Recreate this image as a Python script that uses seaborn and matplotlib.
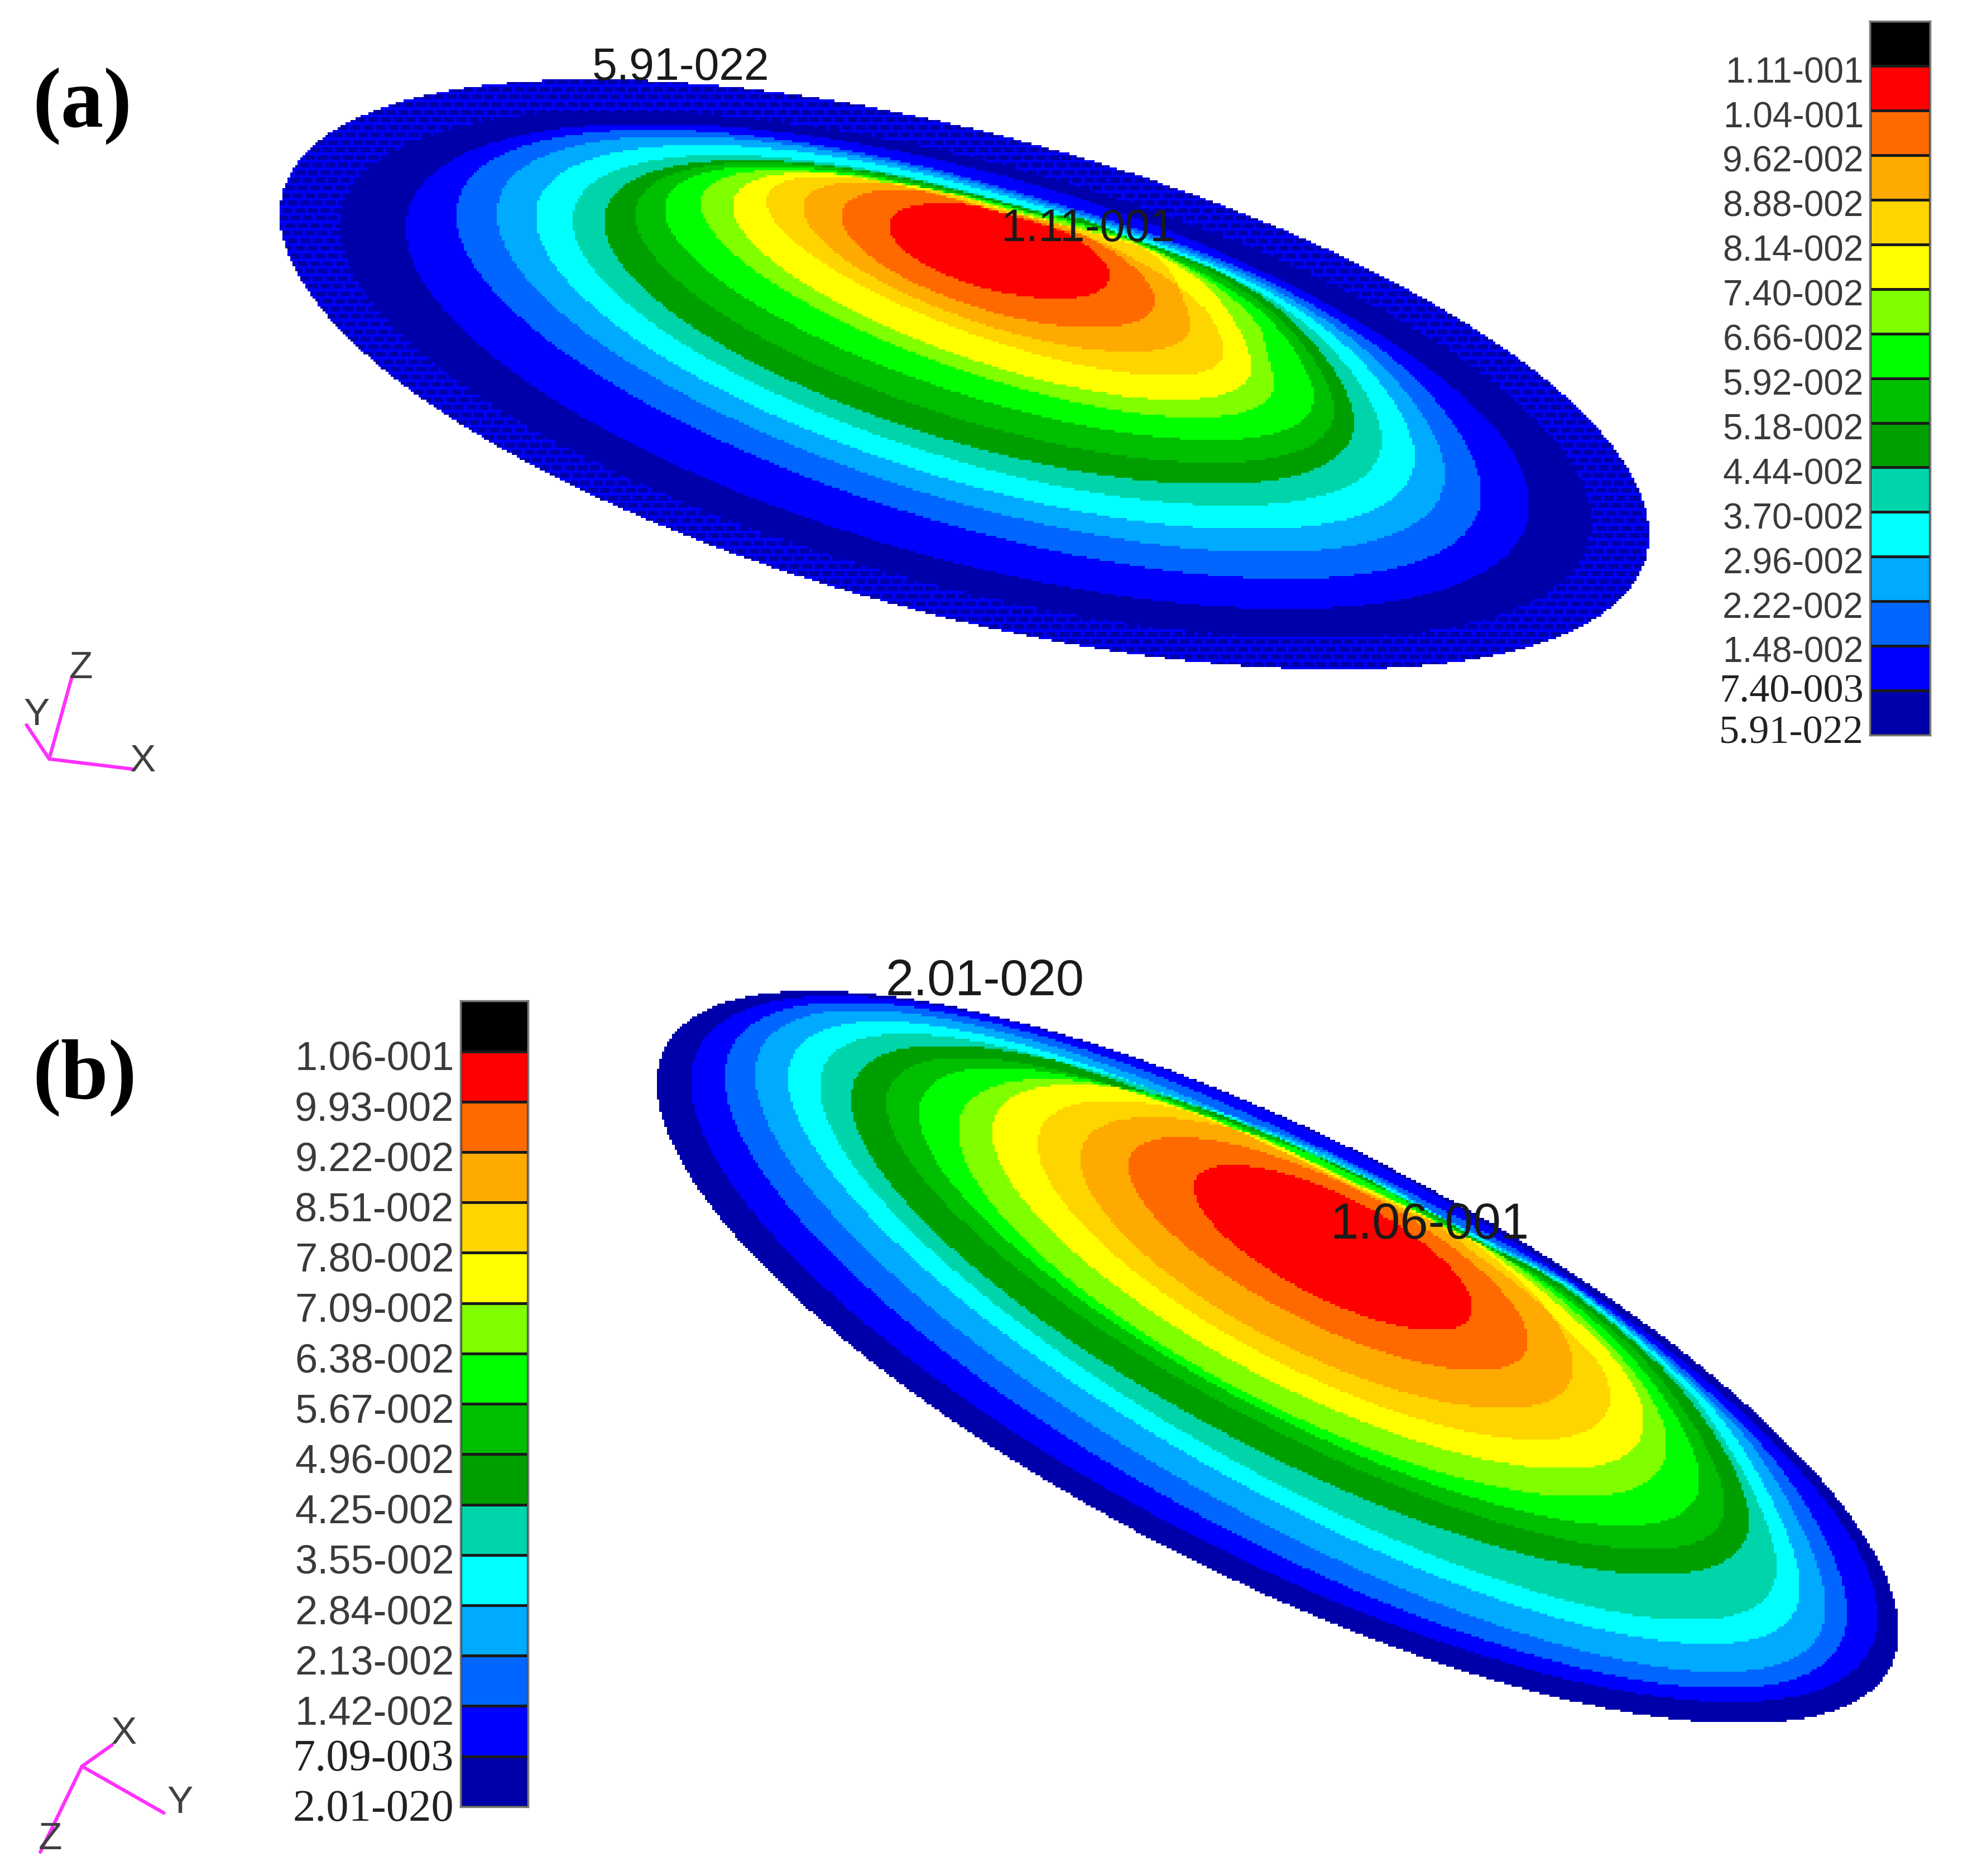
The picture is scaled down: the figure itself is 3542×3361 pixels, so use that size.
"""
Two FE contour plots (a) and (b) with their stepped colour legends
"""

import numpy as np
import pandas as pd
import matplotlib.pyplot as plt
from matplotlib.colors import ListedColormap
from matplotlib.path import Path
import seaborn as sns

W, H = 1568, 1488   # all readings below are in this coordinate space

bar_colors = ['#000000', '#FF0000', '#FF6A00', '#FFAA00', '#FFD500', '#FFFF00', '#7FFF00', '#00FF00',
              '#00BF00', '#009F00', '#00D4AA', '#00FFFF', '#00AAFF', '#0066FF', '#0000FF', '#0000AA']

labels_a = ['1.11-001', '1.04-001', '9.62-002', '8.88-002', '8.14-002', '7.40-002', '6.66-002', '5.92-002',
            '5.18-002', '4.44-002', '3.70-002', '2.96-002', '2.22-002', '1.48-002', '7.40-003', '5.91-022']
labels_b = ['1.06-001', '9.93-002', '9.22-002', '8.51-002', '7.80-002', '7.09-002', '6.38-002', '5.67-002',
            '4.96-002', '4.25-002', '3.55-002', '2.84-002', '2.13-002', '1.42-002', '7.09-003', '2.01-020']

# contour extents, outermost first (mesh rim, navy edge ... red)
a_left = [222, 270, 322, 362, 394, 425, 454, 479, 504, 527, 556, 581, 608, 637, 667, 705]
a_right = [1308, 1262, 1213, 1175, 1146, 1122, 1096, 1074, 1058, 1042, 1010, 993, 971, 944, 916, 880]
a_top = [63, 88, 98, 103, 108, 115, 123, 127, 129, 132, 135, 137, 140, 144, 150, 161]
a_bottom = [531, 506, 483, 459, 438, 420, 401, 384, 367, 349, 331, 317, 298, 279, 260, 237]
a_low_x = [1060, 1045, 1021, 1021, 1006, 992, 977, 962, 962, 962, 948, 933, 926, 896, 867, 838]
# where each contour crosses a column on its upper right side (nan: not read)
a_probe_x = [np.nan, np.nan, 1000, 1000, 1000, 1000, 1000, 1000, 1000, 1000, 1000, 956, 956, 927, np.nan, np.nan]
a_probe_y = [np.nan, np.nan, 214.7, 220, 224, 228, 232.4, 234.6, 240, 246.5, 260.5, 225.5, 245, 212.5, np.nan, np.nan]

b_left = [521, 548, 575, 599, 625, 650, 675, 703, 729, 760, 787, 823, 857, 895, 947]
b_right = [1506, 1489, 1465, 1448, 1428, 1409, 1387, 1368, 1348, 1322, 1304, 1277, 1248, 1212, 1168]
b_top = [786, 790, 795, 801, 810, 820, 829, 839, 847, 856, 860, 873, 886, 902, 924]
b_bottom = [1367, 1350, 1339, 1326, 1304, 1285, 1249, 1229, 1210, 1187, 1165, 1142, 1117, 1087, 1055]
b_low_x = [1382, 1375, 1368, 1365, 1355, 1341, 1314, 1307, 1287, 1253, 1240, 1219, 1192, 1172, 1138]
b_probe_x = [np.nan, 1244, 1244, 1244, 1244, 1244, 1244, 1244, 1244, 1244, 1244, 1244, np.nan, np.nan, np.nan]
b_probe_y = [np.nan, 1013.5, 1016, 1017.5, 1019, 1021, 1023, 1027, 1031, 1036, 1042, 1056, np.nan, np.nan, np.nan]

a_rim_color = '#0000FF'

triad_a = {'o': (39, 602), 'X': (105, 610), 'Y': (21, 575), 'Z': (57, 537)}
triad_a_text = {'X': (113, 604), 'Y': (29, 567), 'Z': (64, 530)}
triad_b = {'o': (65, 1401), 'X': (89, 1384), 'Y': (130, 1438), 'Z': (32, 1469)}
triad_b_text = {'X': (98, 1375), 'Y': (143, 1430), 'Z': (40, 1459)}

sns.set_style('white')
plt.rcParams['font.family'] = ['Liberation Sans', 'DejaVu Sans']

fig = plt.figure(figsize=(35.42, 33.61), dpi=100)


def px_axes(x0, x1, y0, y1):
    return fig.add_axes([x0 / W, 1 - y1 / H, (x1 - x0) / W, (y1 - y0) / H])


def contour_path(l, r, t, b, lx, px, py):     #sheared ellipse, upper right arc pulled to the probe reading
    cx, cy = (l + r) / 2, (t + b) / 2
    rx, ry = (r - l) / 2, (b - t) / 2
    phi_low = np.arcsin((lx - cx) / rx)
    a = np.linspace(-np.pi, np.pi, 720)
    phi = np.full(a.shape, phi_low)
    if not np.isnan(px):
        tp = -np.arccos((px - cx) / rx)
        phi_up = np.arcsin((py - cy) / ry) - tp
        right_up = (a > -np.pi / 2) & (a < 0)
        w = np.minimum(1, np.sin(2 * a) ** 2 / np.sin(2 * tp) ** 2)
        phi[right_up] = phi_low + (phi_up - phi_low) * w[right_up]
    return Path(np.column_stack([cx + rx * np.cos(a), cy + ry * np.sin(a + phi)]))


def band_grid(left, right, top, bottom, low_x, probe_x, probe_y, step=2):
    xs = np.arange(left[0] - 2, right[0] + 2, step)
    ys = np.arange(top[0] - 2, bottom[0] + 2, step)
    xx, yy = np.meshgrid(xs + step / 2, ys + step / 2)
    pts = np.column_stack([xx.ravel(), yy.ravel()])
    count = np.zeros(xx.size, dtype=int)
    for row in zip(left, right, top, bottom, low_x, probe_x, probe_y):
        count += contour_path(*row).contains_points(pts).astype(int)
    return count.reshape(xx.shape), xs, ys, step


def plate(left, right, top, bottom, low_x, probe_x, probe_y, colors, mesh=False):
    count, xs, ys, step = band_grid(left, right, top, bottom, low_x, probe_x, probe_y)
    if mesh:
        # element mesh shows through in the outer rim
        jj, ii = np.indices(count.shape)
        line = (jj % 3 == 0) | ((ii + 2 * (jj // 3)) % 5 == 0)
        count = np.where((count == 1) & ~line, 2, count)
    grid = pd.DataFrame(count, index=ys, columns=xs)
    ax = px_axes(xs[0], xs[-1] + step, ys[0], ys[-1] + step)
    sns.heatmap(grid, mask=grid == 0, cmap=ListedColormap(colors), vmin=0.5, vmax=len(colors) + 0.5,
                cbar=False, xticklabels=False, yticklabels=False, ax=ax)
    ax.set_xlabel('')
    ax.set_ylabel('')
    ax.patch.set_alpha(0)


def legend_bar(x0, x1, y0, y1, labels, tick_pos, size, serif_from=14):
    ax = px_axes(x0, x1, y0, y1)
    vals = pd.DataFrame({'v': np.arange(len(bar_colors))})
    sns.heatmap(vals, cmap=ListedColormap(bar_colors), vmin=-0.5, vmax=len(bar_colors) - 0.5, cbar=False,
                linewidths=2.5, linecolor='#1a1a1a', xticklabels=False, yticklabels=False, ax=ax)
    ax.set_xlabel('')
    ax.set_ylabel('')
    ax.set_yticks(tick_pos)
    ax.set_yticklabels(labels, rotation=0, fontsize=size, color='#3a3a3a')
    ax.tick_params(axis='y', length=0, pad=8, left=False)
    for i, lab in enumerate(ax.get_yticklabels()):
        if i >= serif_from:
            lab.set_family('Liberation Serif')
            lab.set_color('#222222')
            lab.set_fontsize(size + 6)
    for sp in ax.spines.values():
        sp.set_visible(True)
        sp.set_color('#777777')
        sp.set_linewidth(2.5)


navy_to_red = bar_colors[1:][::-1]
plate(a_left, a_right, a_top, a_bottom, a_low_x, a_probe_x, a_probe_y, [a_rim_color] + navy_to_red, mesh=True)
plate(b_left, b_right, b_top, b_bottom, b_low_x, b_probe_x, b_probe_y, navy_to_red)

ticks_a = np.arange(1, 17) + 0.08
ticks_a[14:] = [14.95, 15.87]
ticks_b = np.arange(1, 17) + 0.08
ticks_b[14:] = [14.97, 15.97]
legend_bar(1483, 1531, 17, 583, labels_a, ticks_a, 46)
legend_bar(365, 419, 794, 1433, labels_b, ticks_b, 52)

# overlay for annotations
top = fig.add_axes([0, 0, 1, 1], zorder=10)
top.set_xlim(0, W)
top.set_ylim(H, 0)
top.axis('off')
top.patch.set_alpha(0)

for s, x, y, size in [('5.91-022', 540, 54, 58), ('1.11-001', 863, 182, 58),
                      ('2.01-020', 781, 779, 65), ('1.06-001', 1134, 972, 65)]:
    top.text(x, y, s, ha='center', va='center', fontsize=size, color='#1a1a1a')

top.text(65, 84, '(a)', ha='center', va='center', fontsize=110, fontweight='bold', family='Liberation Serif', color='black')
top.text(67, 855, '(b)', ha='center', va='center', fontsize=110, fontweight='bold', family='Liberation Serif', color='black')

for triad, names in [(triad_a, triad_a_text), (triad_b, triad_b_text)]:
    ox, oy = triad['o']
    for k, (tx, ty) in names.items():
        ex, ey = triad[k]
        sns.lineplot(x=[ox, ex], y=[oy, ey], color='#FF30FF', linewidth=4.5, sort=False, ax=top)
        top.text(tx, ty, k, ha='center', va='center', fontsize=50, color='#404040')

top.set_xlim(0, W)
top.set_ylim(H, 0)

fig.savefig('out.png', dpi=100, facecolor='white')
